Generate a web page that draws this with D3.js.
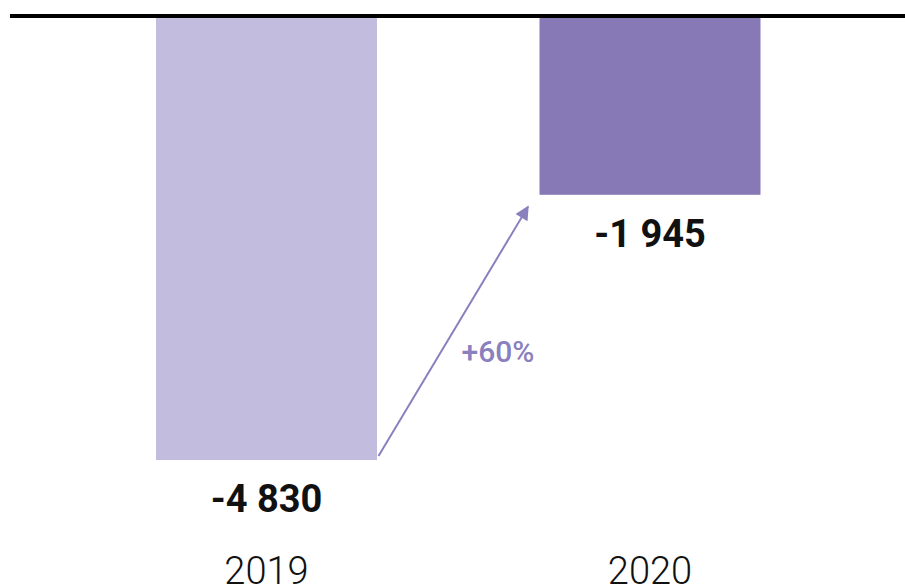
<!DOCTYPE html>
<html><head><meta charset="utf-8">
<script src="https://cdn.jsdelivr.net/npm/d3@7"></script>
<style>html,body{margin:0;padding:0;background:#fff;}svg{display:block;}</style>
</head><body>
<script>
const categories = ["2019", "2020"];
const values = [-4830, -1945];
const valueLabels = ["-4 830", "-1 945"];
const changeLabel = "+60%";

const W = 905, H = 587;
const colors = ["#c2bcde", "#8679b5"];
const svg = d3.select("body").append("svg").attr("width", W).attr("height", H);

const x = d3.scalePoint().domain(categories).range([266.5, 650]);
const y = d3.scaleLinear().domain([0, -4830]).range([16, 460]);
const bw = 221;

svg.selectAll("rect.bar").data(values).join("rect")
  .attr("class", "bar")
  .attr("x", (d, i) => x(categories[i]) - bw / 2)
  .attr("y", y(0))
  .attr("width", bw)
  .attr("height", d => y(d) - y(0))
  .attr("fill", (d, i) => colors[i]);

svg.append("line").attr("x1", 10).attr("x2", W).attr("y1", y(0)).attr("y2", y(0))
  .attr("stroke", "#000").attr("stroke-width", 4);

svg.selectAll("text.val").data(values).join("text")
  .attr("class", "val")
  .attr("x", (d, i) => x(categories[i]))
  .attr("y", d => y(d) + 52)
  .attr("text-anchor", "middle")
  .attr("font-family", "Roboto")
  .attr("font-weight", 700)
  .attr("font-size", 38)
  .attr("fill", "#111")
  .text((d, i) => valueLabels[i]);

svg.selectAll("text.cat").data(categories).join("text")
  .attr("class", "cat")
  .attr("x", d => x(d))
  .attr("y", 584)
  .attr("text-anchor", "middle")
  .attr("font-family", "Roboto")
  .attr("font-weight", 300)
  .attr("font-size", 38)
  .attr("fill", "#111")
  .text(d => d);

// arrow
const arrowColor = "#8a80be";
svg.append("defs").append("marker")
  .attr("id", "ah").attr("viewBox", "0 0 10 10").attr("refX", 9).attr("refY", 5)
  .attr("markerWidth", 8).attr("markerHeight", 7).attr("markerUnits", "strokeWidth")
  .attr("orient", "auto")
  .append("path").attr("d", "M0,0 L10,5 L0,10 z").attr("fill", arrowColor);

const x0 = x(categories[0]) + 112, y0 = y(values[0]) - 4;
const x1 = x(categories[1]) - 122, y1 = y(values[1]) + 12;
svg.append("line").attr("x1", x0).attr("y1", y0).attr("x2", x1).attr("y2", y1)
  .attr("stroke", arrowColor).attr("stroke-width", 2).attr("marker-end", "url(#ah)");

svg.append("text").attr("x", 498).attr("y", 362).attr("text-anchor", "middle")
  .attr("font-family", "Roboto").attr("font-weight", 500).attr("font-size", 30)
  .attr("fill", arrowColor).text(changeLabel);
</script>
</body></html>
